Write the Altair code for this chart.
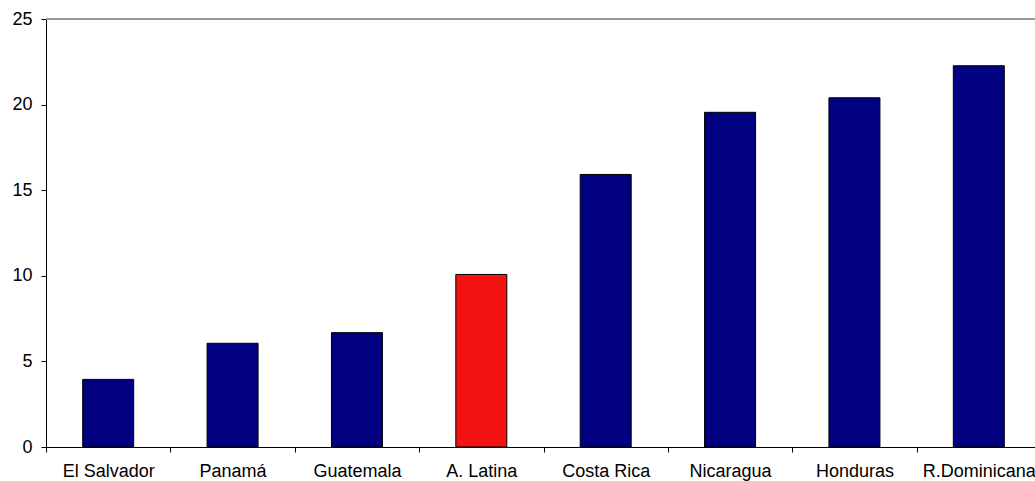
import altair as alt
import pandas as pd

paises = ["El Salvador", "Panamá", "Guatemala", "A. Latina", "Costa Rica",
          "Nicaragua", "Honduras", "R.Dominicana"]
valores = [3.95, 6.06, 6.68, 10.08, 15.92, 19.55, 20.4, 22.27]
destacado = "A. Latina"

df = pd.DataFrame({"pais": paises, "valor": valores})

FONT = "Liberation Sans"

bars = alt.Chart(df).mark_bar(
    width=51, stroke="#000000", strokeWidth=1
).encode(
    x=alt.X("pais:N", sort=paises, title=None,
            scale=alt.Scale(range=[0, 995], paddingInner=0, paddingOuter=0),
            axis=alt.Axis(labelAngle=0, tickBand="extent", tickSize=5,
                          labelPadding=10, labelFontSize=18, labelFont=FONT,
                          labelColor="#000000", domainColor="#000000",
                          tickColor="#000000", labelOverlap=False, grid=False)),
    y=alt.Y("valor:Q", title=None,
            scale=alt.Scale(domain=[0, 25], nice=False),
            axis=alt.Axis(values=[0, 5, 10, 15, 20, 25], tickSize=5,
                          labelPadding=9, labelFontSize=18, labelFont=FONT,
                          labelColor="#000000", domainColor="#000000",
                          tickColor="#000000", grid=False)),
    color=alt.condition(alt.datum.pais == destacado,
                        alt.value("#F21212"), alt.value("#000080")),
)

top = alt.Chart(df).mark_rule(color="#999999", strokeWidth=1.5).encode(
    y=alt.datum(25)
)

chart = alt.layer(top, bars).properties(
    width=989, height=428,
    autosize=alt.AutoSizeParams(type="none"),
    padding={"left": 46, "top": 19, "right": 0, "bottom": 34},
    background="white",
).configure_view(stroke=None)

chart.save("out.html", embed_options={"renderer": "svg", "actions": False})
